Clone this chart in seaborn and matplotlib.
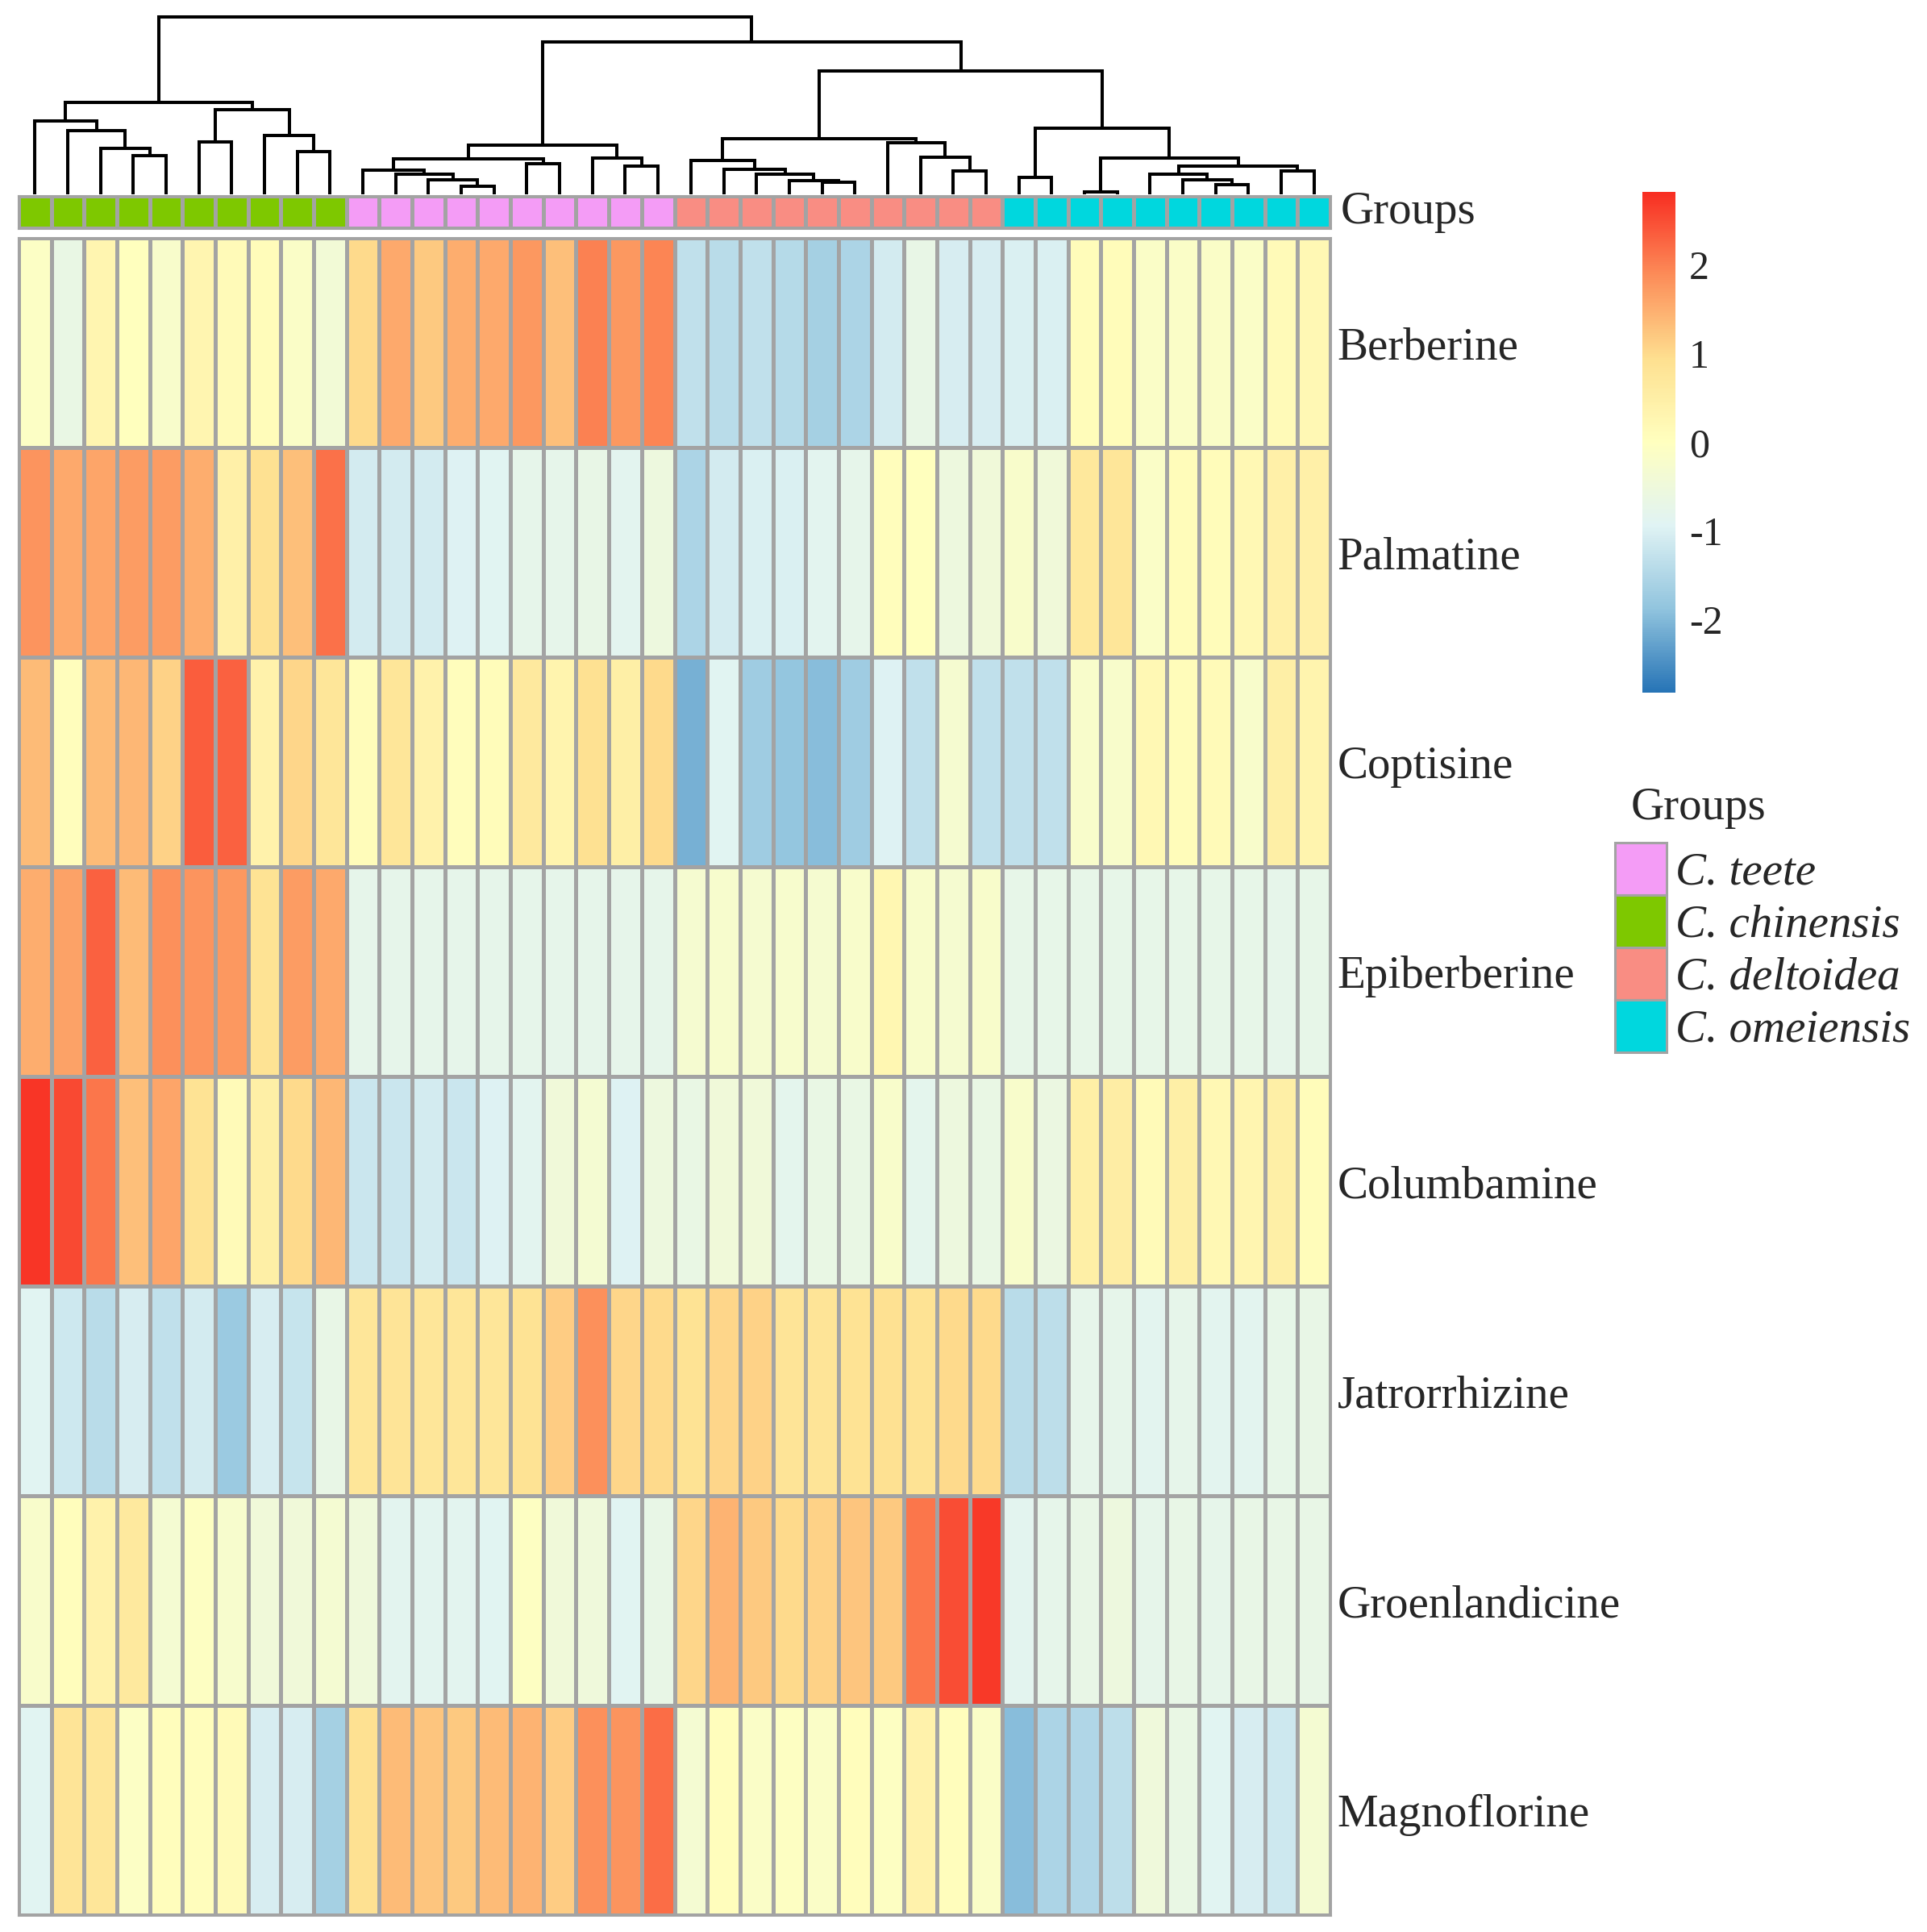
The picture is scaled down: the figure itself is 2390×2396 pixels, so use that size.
import numpy as np
import pandas as pd
import matplotlib
matplotlib.use('Agg')
import matplotlib.pyplot as plt
import seaborn as sns
from matplotlib.colors import LinearSegmentedColormap, ListedColormap
from matplotlib.patches import Patch

# compounds (rows) and their z-scores for the 40 samples (columns, in dendrogram order)
compounds = ['Berberine', 'Palmatine', 'Coptisine', 'Epiberberine',
             'Columbamine', 'Jatrorrhizine', 'Groenlandicine', 'Magnoflorine']

berberine = [-0.1, -0.65, 0.3, 0.0, -0.2, 0.3, 0.15, 0.1, -0.15, -0.4,
             1.0, 1.55, 1.2, 1.5, 1.55, 1.75, 1.3, 2.0, 1.75, 1.95,
             -1.3, -1.4, -1.3, -1.45, -1.65, -1.55, -1.1, -0.7, -1.05, -1.05,
             -1.0, -1.0, 0.1, 0.1, -0.15, -0.15, -0.15, -0.15, 0.15, 0.2]
palmatine = [1.8, 1.55, 1.6, 1.7, 1.7, 1.5, 0.45, 0.9, 1.3, 2.15,
             -1.1, -1.1, -1.1, -0.95, -0.9, -0.75, -0.75, -0.7, -0.85, -0.55,
             -1.55, -1.1, -1.0, -1.0, -0.85, -0.75, 0.05, 0.0, -0.55, -0.45,
             -0.2, -0.45, 0.7, 0.75, -0.15, 0.1, 0.1, 0.2, 0.45, 0.45]
coptisine = [1.35, 0.05, 1.35, 1.4, 1.1, 2.35, 2.3, 0.4, 1.05, 0.75,
             0.1, 0.75, 0.4, 0.05, 0.1, 0.65, 0.35, 0.9, 0.5, 1.0,
             -2.1, -0.9, -1.7, -1.85, -1.95, -1.7, -0.95, -1.3, -0.3, -1.3,
             -1.3, -1.3, -0.2, -0.2, 0.2, 0.1, 0.15, -0.2, 0.5, 0.35]
epiberberine = [1.5, 1.65, 2.3, 1.35, 1.85, 1.8, 1.75, 0.85, 1.7, 1.55,
                -0.75, -0.75, -0.75, -0.75, -0.75, -0.75, -0.75, -0.75, -0.75, -0.75,
                -0.3, -0.25, -0.3, -0.25, -0.3, -0.2, 0.25, -0.2, -0.3, -0.2,
                -0.72, -0.72, -0.72, -0.72, -0.72, -0.72, -0.72, -0.72, -0.75, -0.72]
columbamine = [2.75, 2.55, 2.1, 1.3, 1.6, 0.85, 0.15, 0.5, 1.0, 1.4,
               -1.2, -1.2, -1.1, -1.2, -0.95, -0.85, -0.45, -0.35, -0.95, -0.55,
               -0.65, -0.45, -0.45, -0.8, -0.65, -0.65, -0.2, -0.8, -0.55, -0.65,
               -0.2, -0.6, 0.5, 0.55, 0.15, 0.5, 0.2, 0.3, 0.5, 0.1]
jatrorrhizine = [-0.9, -1.15, -1.4, -1.05, -1.3, -1.1, -1.75, -1.05, -1.25, -0.7,
                 0.75, 0.8, 0.75, 0.75, 0.75, 0.85, 1.15, 1.85, 1.05, 1.0,
                 0.85, 1.05, 1.1, 0.8, 0.8, 0.85, 0.9, 0.85, 1.0, 1.0,
                 -1.4, -1.35, -0.75, -0.75, -0.85, -0.75, -0.85, -0.85, -0.72, -0.7]
groenlandicine = [-0.2, 0.05, 0.4, 0.65, -0.35, -0.05, -0.25, -0.45, -0.45, -0.35,
                  -0.5, -0.85, -0.85, -0.85, -0.9, -0.05, -0.45, -0.5, -0.9, -0.7,
                  1.05, 1.45, 1.2, 1.0, 1.1, 1.25, 1.2, 2.1, 2.5, 2.7,
                  -0.85, -0.75, -0.7, -0.55, -0.75, -0.7, -0.75, -0.7, -0.7, -0.7]
magnoflorine = [-0.9, 0.8, 0.75, -0.1, 0.05, 0.05, 0.15, -1.05, -1.05, -1.65,
                0.9, 1.35, 1.25, 1.2, 1.35, 1.45, 1.15, 1.85, 1.8, 2.2,
                -0.35, 0.05, -0.15, -0.05, -0.15, 0.05, -0.05, 0.4, 0.05, -0.15,
                -1.95, -1.55, -1.5, -1.35, -0.5, -0.65, -0.9, -1.05, -1.15, -0.35]

# group of each column
sample_groups = (['C. chinensis'] * 10 + ['C. teete'] * 10
                 + ['C. deltoidea'] * 10 + ['C. omeiensis'] * 10)
group_names = ['C. teete', 'C. chinensis', 'C. deltoidea', 'C. omeiensis']
group_colors = ['#F49CF6', '#7EC800', '#F98D83', '#00D7DE']

# column dendrogram: (child a, child b, height); leaves 0-39, merged nodes 40+
merges = [
    (3, 4, 143), (2, 40, 170), (1, 41, 237), (0, 42, 270),
    (5, 6, 193), (8, 9, 157), (7, 45, 218), (44, 46, 313), (43, 47, 340),
    (13, 14, 30), (12, 49, 53), (11, 50, 75), (10, 51, 90), (15, 16, 113),
    (52, 53, 132), (18, 19, 105), (17, 55, 135), (54, 56, 182),
    (24, 25, 45), (23, 58, 52), (22, 59, 75), (21, 60, 92), (20, 61, 125),
    (28, 29, 87), (27, 63, 137), (26, 64, 190), (62, 65, 207),
    (30, 31, 63), (32, 33, 10), (36, 37, 37), (35, 69, 55), (34, 70, 75),
    (38, 39, 87), (71, 72, 105), (68, 73, 135), (67, 74, 245),
    (66, 75, 455), (57, 76, 565), (48, 77, 655),
]

df = pd.DataFrame([berberine, palmatine, coptisine, epiberberine,
                   columbamine, jatrorrhizine, groenlandicine, magnoflorine],
                  index=compounds)

sns.set_style('white')
plt.rcParams['font.family'] = ['Liberation Serif', 'DejaVu Serif']

W, H = 2390, 2396
fig = plt.figure(figsize=(W / 100, H / 100), dpi=100)


def box(x0, y0, x1, y1):
    return [x0 / W, 1 - y1 / H, (x1 - x0) / W, (y1 - y0) / H]


ax_hm = fig.add_axes(box(23, 295, 1650, 2375))
ax_ann = fig.add_axes(box(23, 243, 1650, 283))
ax_den = fig.add_axes(box(23, 18, 1650, 241))
cax = fig.add_axes(box(2037, 238, 2078, 859))

grid = '#A3A3A3'
cmap = LinearSegmentedColormap.from_list(
    'rdylbu', ['#2774B6', '#91C4DE', '#E0F3F4', '#FFFFBF',
               '#FEE090', '#FC8D59', '#F82E22'])
vlim = 2.82

sns.heatmap(df, ax=ax_hm, cmap=cmap, vmin=-vlim, vmax=vlim,
            linewidths=2.2, linecolor=grid, cbar_ax=cax, xticklabels=False)
ax_hm.yaxis.tick_right()
ax_hm.set_yticklabels(compounds, rotation=0, fontsize=41, ha='left')
ax_hm.tick_params(axis='y', length=0, pad=6)
ax_hm.set_xlabel('')
ax_hm.set_ylabel('')
for s in ax_hm.spines.values():
    s.set_visible(True)
    s.set_color(grid)
    s.set_linewidth(2.2)

# colorbar
cbar = ax_hm.collections[0].colorbar
cbar.outline.set_visible(False)
cbar.set_ticks([-2, -1, 0, 1, 2])
cbar.set_ticklabels(['-2', '-1', '0', '1', '2'])
cax.tick_params(length=0, labelsize=36, pad=12)

# group annotation bar
codes = np.array([[group_names.index(g) for g in sample_groups]])
sns.heatmap(codes, ax=ax_ann, cmap=ListedColormap(group_colors), vmin=-0.5, vmax=3.5,
            cbar=False, linewidths=2.2, linecolor=grid,
            xticklabels=False, yticklabels=False)
for s in ax_ann.spines.values():
    s.set_visible(True)
    s.set_color(grid)
    s.set_linewidth(2.2)
ax_ann.text(1.008, 0.5, 'Groups', transform=ax_ann.transAxes,
            va='center', ha='left', fontsize=41)

# dendrogram
pos = {i: i + 0.5 for i in range(40)}
hgt = {i: 0 for i in range(40)}
for k, (a, b, h) in enumerate(merges):
    node = 40 + k
    ax_den.plot([pos[a], pos[a], pos[b], pos[b]], [hgt[a], h, h, hgt[b]],
                color='black', lw=2.9, solid_joinstyle='miter')
    pos[node] = (pos[a] + pos[b]) / 2
    hgt[node] = h
ax_den.set_xlim(0, 40)
ax_den.set_ylim(0, 665)
ax_den.axis('off')

# legend
fig.text(2023 / W, 1 - 1002 / H, 'Groups', va='center', ha='left', fontsize=41)
handles = [Patch(facecolor=c, edgecolor=grid, linewidth=2.2) for c in group_colors]
fig.legend(handles, group_names, loc='upper left',
           bbox_to_anchor=(2003 / W, 1 - 1045 / H), frameon=False,
           prop={'size': 41, 'style': 'italic'},
           handlelength=1.12, handleheight=1.38, labelspacing=0.0,
           handletextpad=0.2, borderpad=0, borderaxespad=0)

fig.savefig('out.png', dpi=100)
